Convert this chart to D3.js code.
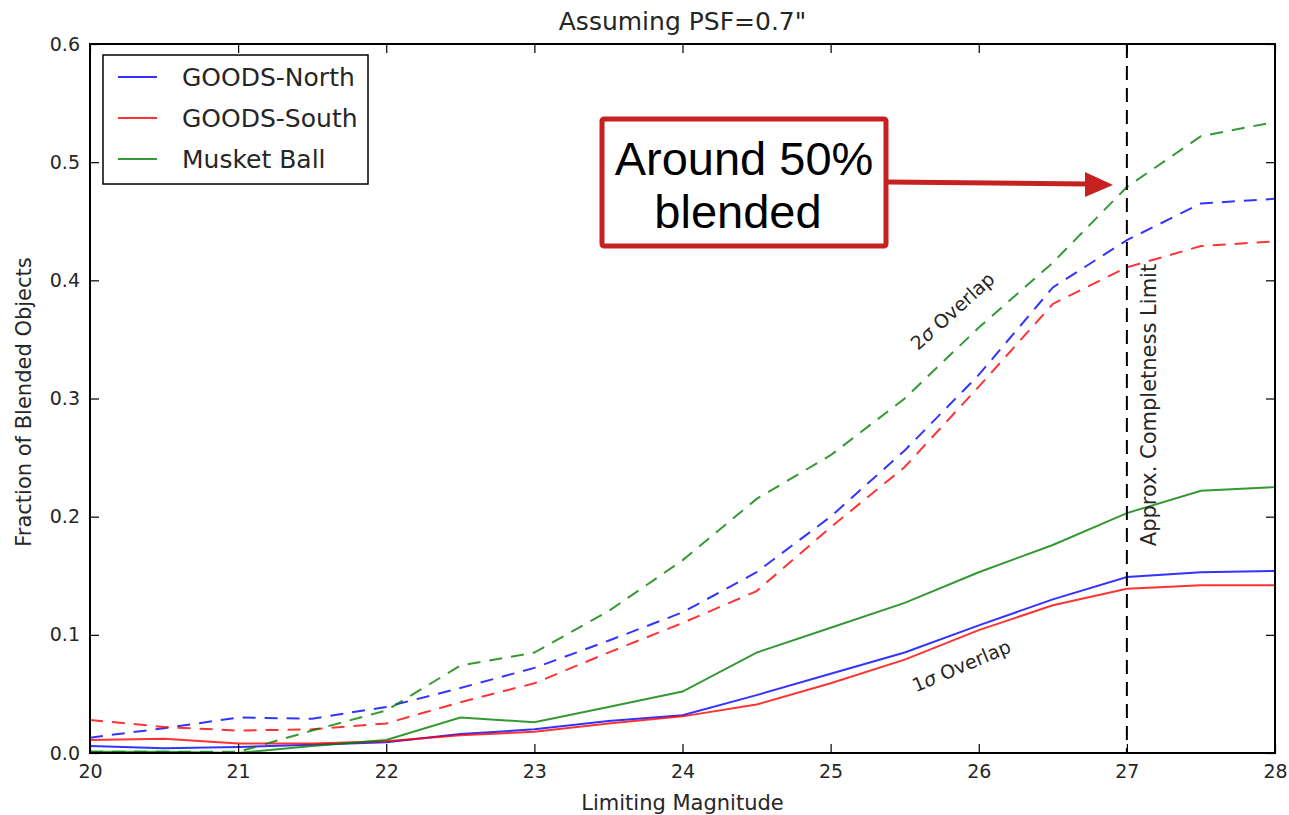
<!DOCTYPE html>
<html><head><meta charset="utf-8">
<script src="https://cdn.jsdelivr.net/npm/d3@7"></script>
<style>body{margin:0;background:#fff}svg{display:block}</style>
</head><body>
<svg id="c" width="1289" height="815"></svg>
<script>
const mags = [20,20.5,21,21.5,22,22.5,23,23.5,24,24.5,25,25.5,26,26.5,27,27.5,28];
const north1 = [0.006,0.004,0.005,0.007,0.009,0.016,0.020,0.027,0.032,0.049,0.067,0.085,0.108,0.130,0.149,0.153,0.154];
const south1 = [0.011,0.012,0.008,0.008,0.010,0.015,0.018,0.025,0.031,0.041,0.059,0.079,0.104,0.125,0.139,0.142,0.142];
const musket1 = [0.001,0.001,0.000,0.006,0.011,0.030,0.026,0.039,0.052,0.085,0.106,0.127,0.153,0.176,0.203,0.222,0.225];
const north2 = [0.013,0.021,0.030,0.029,0.039,0.055,0.072,0.095,0.119,0.153,0.200,0.256,0.320,0.394,0.434,0.465,0.469];
const south2 = [0.028,0.022,0.019,0.020,0.025,0.043,0.059,0.085,0.110,0.137,0.191,0.242,0.310,0.380,0.411,0.429,0.433];
const musket2 = [0.001,0.001,0.001,0.019,0.036,0.074,0.085,0.120,0.163,0.215,0.252,0.300,0.360,0.415,0.479,0.522,0.534];
const seriesNames = ["GOODS-North","GOODS-South","Musket Ball"];
const seriesColors = ["#0000ff","#ff0000","#008000"];
const xTicks = [20,21,22,23,24,25,26,27,28];
const yTicks = [0.0,0.1,0.2,0.3,0.4,0.5,0.6];
const completenessMag = 27;

const svg = d3.select("#c");
const L=90,R=1275,T=44,B=753;
const x = d3.scaleLinear().domain([20,28]).range([L,R]);
const y = d3.scaleLinear().domain([0,0.6]).range([B,T]);
const font = "DejaVu Sans, sans-serif";
const txt = "#262626";

// lines
const line = d3.line().x((d,i)=>x(mags[i])).y(d=>y(d));
const sets = [
  [north1,0,null],[south1,1,null],[musket1,2,null],
  [north2,0,"13,9"],[south2,1,"13,9"],[musket2,2,"13,9"]
];
const g = svg.append("g");
sets.forEach(([data,ci,dash])=>{
  const p = g.append("path").datum(data).attr("d",line).attr("fill","none")
    .attr("stroke",seriesColors[ci]).attr("stroke-width",2).attr("stroke-opacity",0.8);
  if(dash) p.attr("stroke-dasharray",dash);
});

// completeness line
svg.append("line").attr("x1",x(completenessMag)).attr("x2",x(completenessMag))
  .attr("y1",T).attr("y2",B).attr("stroke","#000").attr("stroke-width",2).attr("stroke-dasharray","14,8");

// axes
const xb = svg.append("g").attr("transform",`translate(0,${B})`)
  .call(d3.axisBottom(x).tickValues(xTicks).tickSize(-9).tickPadding(12).tickFormat(d3.format("d")));
const xt = svg.append("g").attr("transform",`translate(0,${T})`)
  .call(d3.axisTop(x).tickValues(xTicks).tickSize(-9).tickFormat(""));
const yl = svg.append("g").attr("transform",`translate(${L},0)`)
  .call(d3.axisLeft(y).tickValues(yTicks).tickSize(-9).tickPadding(10).tickFormat(d3.format(".1f")));
const yr = svg.append("g").attr("transform",`translate(${R},0)`)
  .call(d3.axisRight(y).tickValues(yTicks).tickSize(-9).tickFormat(""));
[xb,xt,yl,yr].forEach(a=>{
  a.select(".domain").remove();
  a.selectAll(".tick line").attr("stroke","#000").attr("stroke-width",1.2);
  a.selectAll("text").attr("font-family",font).attr("font-size",19).attr("fill",txt);
});
svg.append("rect").attr("x",L).attr("y",T).attr("width",R-L).attr("height",B-T)
  .attr("fill","none").attr("stroke","#000").attr("stroke-width",2);

// titles
svg.append("text").attr("x",(L+R)/2).attr("y",30).attr("text-anchor","middle")
  .attr("font-family",font).attr("font-size",25).attr("fill",txt).text('Assuming PSF=0.7"');
svg.append("text").attr("x",(L+R)/2).attr("y",810).attr("text-anchor","middle")
  .attr("font-family",font).attr("font-size",21).attr("fill",txt).text("Limiting Magnitude");
svg.append("text").attr("transform","translate(31,402) rotate(-90)").attr("text-anchor","middle")
  .attr("font-family",font).attr("font-size",21).attr("fill",txt).text("Fraction of Blended Objects");

// legend
const lg = svg.append("g");
lg.append("rect").attr("x",103).attr("y",55).attr("width",265).attr("height",129)
  .attr("fill","#fff").attr("stroke","#000").attr("stroke-width",1.5);
seriesNames.forEach((n,i)=>{
  const yy = 77 + i*41;
  lg.append("line").attr("x1",118).attr("x2",157).attr("y1",yy).attr("y2",yy)
    .attr("stroke",seriesColors[i]).attr("stroke-width",2).attr("stroke-opacity",0.8);
  lg.append("text").attr("x",182).attr("y",yy+9).attr("font-family",font).attr("font-size",25)
    .attr("fill",txt).text(n);
});

// in-plot labels
svg.append("text").attr("transform","translate(957,316) rotate(-42)").attr("text-anchor","middle")
  .attr("font-family",font).attr("font-size",19).attr("fill",txt)
  .html('2<tspan font-style="italic">σ</tspan> Overlap');
svg.append("text").attr("transform","translate(964,672) rotate(-23)").attr("text-anchor","middle")
  .attr("font-family",font).attr("font-size",19).attr("fill",txt)
  .html('1<tspan font-style="italic">σ</tspan> Overlap');
svg.append("text").attr("transform",`translate(${x(completenessMag)+29},405) rotate(-90)`).attr("text-anchor","middle")
  .attr("font-family",font).attr("font-size",21).attr("fill",txt).text("Approx. Completness Limit");

// annotation box
const red = "#c62121";
svg.append("rect").attr("x",602).attr("y",119).attr("width",284).attr("height",127)
  .attr("fill","#fff").attr("stroke",red).attr("stroke-width",5).attr("rx",2);
svg.append("text").attr("x",744).attr("y",175).attr("text-anchor","middle")
  .attr("font-family","Liberation Sans, Arial, sans-serif").attr("font-size",47).attr("fill","#000").text("Around 50%");
svg.append("text").attr("x",738).attr("y",228).attr("text-anchor","middle")
  .attr("font-family","Liberation Sans, Arial, sans-serif").attr("font-size",47).attr("fill","#000").text("blended");
svg.append("path").attr("d","M888,182 L1088,184").attr("stroke",red).attr("stroke-width",5).attr("fill","none");
svg.append("path").attr("d","M1085,172 L1113,185 L1085,197 Z").attr("fill",red);
</script>
</body></html>
